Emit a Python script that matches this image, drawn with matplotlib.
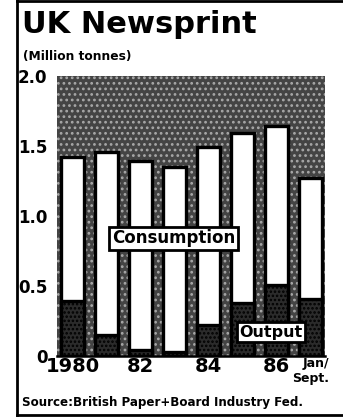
import matplotlib.pyplot as plt
from matplotlib.patches import Rectangle
from matplotlib.lines import Line2D

plt.rcParams['font.family'] = ['DejaVu Sans']
plt.rcParams['font.weight'] = 'bold'
plt.rcParams['hatch.linewidth'] = 1.2

# values (million tonnes)
years = ['1980', '81', '82', '83', '84', '85', '86', 'Jan/\nSept.']
consumption = [1.42, 1.46, 1.39, 1.35, 1.49, 1.59, 1.64, 1.27]
output = [0.39, 0.15, 0.04, 0.03, 0.22, 0.38, 0.51, 0.41]

tick_pos = [0, 2, 4, 6, 7]
tick_labels = ['1980', '82', '84', '86', 'Jan/\nSept.']
y_ticks = [0, 0.5, 1.0, 1.5, 2.0]
y_labels = ['0', '0.5', '1.0', '1.5', '2.0']

W, H = 343, 419
fig = plt.figure(figsize=(W / 100, H / 100), dpi=100)
fig.patch.set_facecolor('white')
ax = fig.add_axes([57 / W, 1 - 356 / H, (325 - 57) / W, (356 - 76) / H])

# stippled background
ax.add_patch(Rectangle((0, 0), 1, 1, transform=ax.transAxes,
                       facecolor='#444444', edgecolor='#a8a8a8',
                       hatch='...', lw=0, zorder=0))

x = list(range(len(years)))
ax.bar(x, consumption, width=0.66, color='white', edgecolor='black',
       linewidth=2.4, zorder=2)
ax.bar(x, output, width=0.66, color='#2b2b2b', edgecolor='black',
       linewidth=2.4, hatch='....', zorder=3)

ax.set_xlim(-0.456, 7.43)
ax.set_ylim(0, 2.0)
for s in ['top', 'right', 'left']:
    ax.spines[s].set_visible(False)
ax.spines['bottom'].set_linewidth(1.8)
ax.spines['bottom'].set_zorder(4)

ax.set_yticks(y_ticks)
ax.set_yticklabels(y_labels, fontsize=12, fontweight='bold')
ax.set_xticks(tick_pos)
ax.set_xticklabels(tick_labels, fontsize=14, fontweight='bold')
last = ax.get_xticklabels()[-1]
last.set_fontsize(9)
last.set_multialignment('right')
ax.tick_params(axis='y', length=0, pad=7)
ax.tick_params(axis='x', length=0, pad=1)

box = dict(boxstyle='square,pad=0.15', facecolor='white',
           edgecolor='black', linewidth=2)
ax.text(2.97, 0.84, 'Consumption', fontsize=12, fontweight='bold',
        ha='center', va='center', bbox=box, zorder=5)
ax.text(5.85, 0.17, 'Output', fontsize=11.5, fontweight='bold',
        ha='center', va='center', bbox=box, zorder=5)

fig.text(22 / W, 1 - 33 / H, 'UK Newsprint', fontsize=22,
         fontweight='heavy', va='baseline')
fig.text(23 / W, 1 - 60 / H, '(Million tonnes)', fontsize=8.8,
         fontweight='bold', va='baseline')
fig.text(22 / W, 1 - 406 / H, 'Source:British Paper+Board Industry Fed.',
         fontsize=8.6, fontweight='bold', va='baseline')

# frame around the graphic
for xs, ys in [([17, 17], [0, 415]), ([17, 343], [1.5, 1.5]),
               ([17, 343], [415, 415])]:
    fig.add_artist(Line2D([v / W for v in xs], [1 - v / H for v in ys],
                          transform=fig.transFigure, color='black', lw=2))

fig.savefig('out.png', dpi=100)
